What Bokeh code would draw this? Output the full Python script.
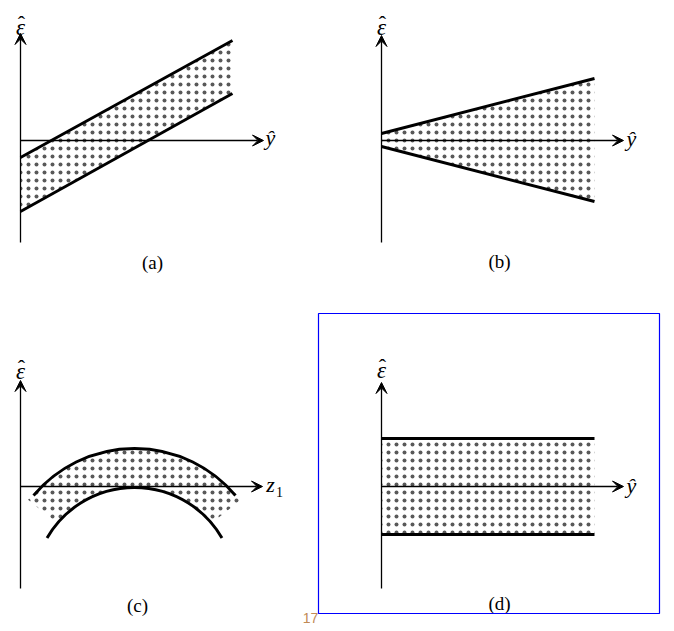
from bokeh.plotting import figure
from bokeh.models import Range1d, Arrow, VeeHead
from bokeh.core.properties import value
from bokeh.embed import file_html
from bokeh.resources import INLINE

# Reference frame: 674 x 631 picture, x to the right, y measured downwards.
W, H = 674, 631

def up(ys):
    return [H - v for v in ys]

# ---------------- panel (a): band rising with y-hat ----------------
a_x = [20, 232]
a_upper = [157, 40]
a_lower = [211, 93]

# ---------------- panel (b): funnel opening to the right -----------
b_x = [381, 594]
b_upper = [133, 78]
b_lower = [146, 201]

# ---------------- panel (c): curved band (circular arcs) -----------
c_outer_center = [134, 580]
c_outer_radius = 132
c_outer_angles = [40.1, 139.9]
c_inner_center = [134, 588]
c_inner_radius = 101
c_inner_angles = [30.0, 150.0]
c_fill_center = [134, 584]
c_fill_radii = [98, 136]
c_fill_angles = [38.5, 141.5]

# ---------------- panel (d): constant-width band --------------------
d_x = [381, 594]
d_upper = [438, 438]
d_lower = [534, 534]

# ---------------- axes: (x_start, y_start, x_end, y_end) ------------
axes_v = [(20, 242, 20, 33), (381, 242, 381, 35), (20, 588, 20, 380), (381, 588, 381, 382)]
axes_h = [(20, 140, 263, 140), (381, 140, 623, 140), (20, 486, 262, 486), (381, 486, 623, 486)]

# ---------------- texts ----------------------------------------------
eps_x = [20, 381, 20, 381]
eps_base = [27, 27, 371, 370]          # baseline of the epsilon
hat_x = [21, 382, 21, 382]
hat_base = [23, 23, 367, 366]          # baseline of its circumflex
yhat_x = [270, 631, 631]
yhat_y = [137, 138, 485]
z_x, z_y = [270], [484]
sub_x, sub_y = [279], [491]
cap_text = ["(a)", "(b)", "(c)", "(d)"]
cap_x = [152, 499, 137, 499]
cap_y = [262, 261, 605, 603]
box = [318, 313, 659, 613]   # left, top, right, bottom
page_text, page_x, page_y = ["17"], [310], [617]

p = figure(width=W, height=H, output_backend="svg", toolbar_location=None,
           x_range=Range1d(0, W), y_range=Range1d(0, H),
           min_border=0, min_border_left=0, min_border_right=0,
           min_border_top=0, min_border_bottom=0)
p.axis.visible = False
p.grid.visible = False
p.outline_line_color = None
p.background_fill_color = "white"
p.border_fill_color = "white"

hatch = dict(fill_alpha=0, hatch_pattern=".", hatch_color="black", hatch_scale=8, hatch_alpha=0.65)

# stippled bands
p.varea(x=a_x, y1=up(a_lower), y2=up(a_upper), **hatch)
p.varea(x=b_x, y1=up(b_lower), y2=up(b_upper), **hatch)
p.varea(x=d_x, y1=up(d_lower), y2=up(d_upper), **hatch)
p.annular_wedge(x=[c_fill_center[0]], y=up([c_fill_center[1]]),
                inner_radius=c_fill_radii[0], outer_radius=c_fill_radii[1],
                start_angle=c_fill_angles[0], end_angle=c_fill_angles[1],
                start_angle_units="deg", end_angle_units="deg",
                line_color=None, **hatch)

# axes with arrow heads
for (x0, y0, x1, y1) in axes_v + axes_h:
    p.add_layout(Arrow(x_start=x0, y_start=H - y0, x_end=x1, y_end=H - y1,
                       line_width=1.3, line_color="black",
                       end=VeeHead(size=11, fill_color="black", line_color="black", line_width=1)))

# band boundaries
bw = 2.9
p.line(a_x, up(a_upper), line_width=bw, color="black")
p.line(a_x, up(a_lower), line_width=bw, color="black")
p.line(b_x, up(b_upper), line_width=bw, color="black")
p.line(b_x, up(b_lower), line_width=bw, color="black")
p.line(d_x, up(d_upper), line_width=bw, color="black")
p.line(d_x, up(d_lower), line_width=bw, color="black")
p.arc(x=[c_outer_center[0]], y=up([c_outer_center[1]]), radius=c_outer_radius,
      start_angle=c_outer_angles[0], end_angle=c_outer_angles[1],
      start_angle_units="deg", end_angle_units="deg", line_width=bw, color="black")
p.arc(x=[c_inner_center[0]], y=up([c_inner_center[1]]), radius=c_inner_radius,
      start_angle=c_inner_angles[0], end_angle=c_inner_angles[1],
      start_angle_units="deg", end_angle_units="deg", line_width=bw, color="black")

serif = value("Liberation Serif")
# epsilon with a separate circumflex above it
p.text(x=eps_x, y=up(eps_base), text=["\u03b5"] * 4, text_font=serif,
       text_font_style="italic", text_font_size="23px", text_align="center",
       text_baseline="alphabetic", text_color="black")
p.text(x=hat_x, y=up(hat_base), text=["\u02c6"] * 4, text_font=serif,
       text_font_size="22px", text_align="center",
       text_baseline="alphabetic", text_color="black")
p.text(x=yhat_x, y=up(yhat_y), text=["\u0177"] * 3, text_font=serif,
       text_font_style="italic", text_font_size="22px", text_align="center",
       text_baseline="middle", text_color="black")
p.text(x=z_x, y=up(z_y), text=["z"], text_font=serif, text_font_style="italic",
       text_font_size="22px", text_align="center", text_baseline="middle", text_color="black")
p.text(x=sub_x, y=up(sub_y), text=["1"], text_font=serif,
       text_font_size="14px", text_align="center", text_baseline="middle", text_color="black")
p.text(x=cap_x, y=up(cap_y), text=cap_text, text_font=serif,
       text_font_size="19px", text_align="center", text_baseline="middle", text_color="black")

p.quad(left=[box[0]], right=[box[2]], top=up([box[1]]), bottom=up([box[3]]),
       fill_alpha=0, line_color="#0000ff", line_width=1.2)
p.text(x=page_x, y=up(page_y), text=page_text, text_font=value("Liberation Sans"),
       text_font_size="14px", text_align="center", text_baseline="middle", text_color="#c08a55")

open("out.html", "w").write(file_html(p, INLINE))
